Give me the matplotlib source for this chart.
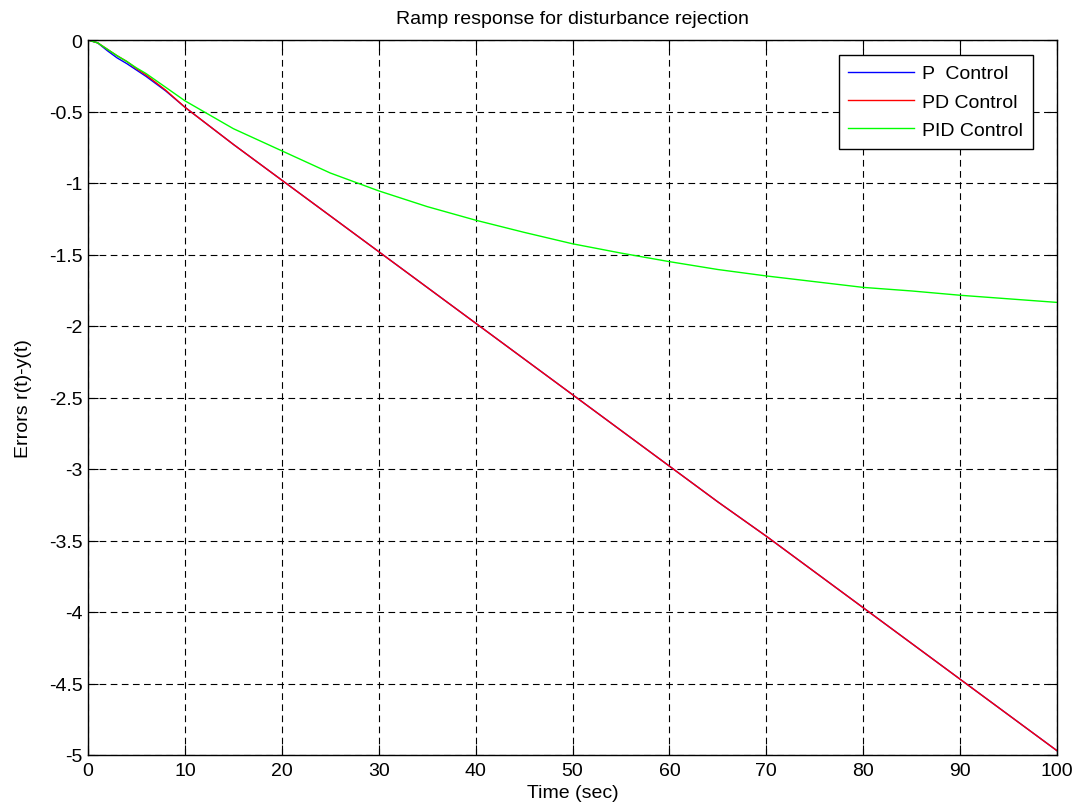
import matplotlib
matplotlib.use("Agg")
import matplotlib.pyplot as plt
import numpy as np

plt.rcParams['font.family'] = ['Liberation Sans', 'DejaVu Sans']

# time in seconds
t = [0, 1, 2, 3, 4, 5, 6, 8, 10, 15, 20, 25, 30, 35, 40, 45, 50,
     55, 60, 65, 70, 75, 80, 85, 90, 95, 100]

# error r(t)-y(t) for each controller
err_p = [0, -0.02, -0.075, -0.125, -0.165, -0.21, -0.255, -0.355, -0.47,
         -0.73, -0.98, -1.23, -1.48, -1.73, -1.98, -2.23, -2.48,
         -2.73, -2.98, -3.23, -3.47, -3.72, -3.97, -4.22, -4.47, -4.72, -4.97]
err_pd = [0, -0.02, -0.065, -0.11, -0.15, -0.2, -0.245, -0.35, -0.47,
          -0.73, -0.98, -1.23, -1.48, -1.73, -1.98, -2.23, -2.48,
          -2.73, -2.98, -3.23, -3.47, -3.72, -3.97, -4.22, -4.47, -4.72, -4.97]
err_pid = [0, -0.02, -0.065, -0.11, -0.15, -0.195, -0.235, -0.33, -0.425,
           -0.62, -0.775, -0.93, -1.055, -1.165, -1.26, -1.345, -1.425,
           -1.49, -1.55, -1.605, -1.65, -1.69, -1.73, -1.755, -1.785, -1.81, -1.835]

labels = ["P  Control", "PD Control", "PID Control"]

FS = 14

fig = plt.figure(figsize=(10.79, 8.12), dpi=100)
ax = fig.add_axes([88 / 1079, 56 / 812, (1057 - 88) / 1079, (756 - 41) / 812])

ax.plot(t, err_p, color="#0000ff", lw=1, label=labels[0])
ax.plot(t, err_pd, color="#ff0000", lw=1, label=labels[1])
ax.plot(t, err_pid, color="#00ff00", lw=1, label=labels[2])

ax.set_xlim(0, 100)
ax.set_ylim(-5, 0)
ax.set_xticks(np.arange(0, 101, 10))
ax.set_yticks(np.arange(-5, 0.01, 0.5))
ax.set_yticklabels(["-5", "-4.5", "-4", "-3.5", "-3", "-2.5", "-2", "-1.5",
                    "-1", "-0.5", "0"])
ax.tick_params(direction="in", length=7, top=True, right=True, labelsize=FS,
               width=0.8)
ax.tick_params(axis="x", pad=5)
ax.tick_params(axis="y", pad=4)
ax.grid(True, color="black", linestyle=(0, (6, 4)), linewidth=0.8)
for s in ax.spines.values():
    s.set_linewidth(1)

ax.set_title("Ramp response for disturbance rejection", fontsize=FS, pad=12)
ax.set_xlabel("Time (sec)", fontsize=FS, labelpad=4)
ax.set_ylabel("Errors r(t)-y(t)", fontsize=FS, labelpad=12)

leg = ax.legend(loc="upper right", bbox_to_anchor=(0.975, 0.979), fontsize=FS,
                borderaxespad=0, fancybox=False, framealpha=1, edgecolor="black",
                handlelength=3.4, handletextpad=0.4, borderpad=0.5,
                labelspacing=0.55)
leg.get_frame().set_linewidth(1)

fig.savefig("out.png", dpi=100)
